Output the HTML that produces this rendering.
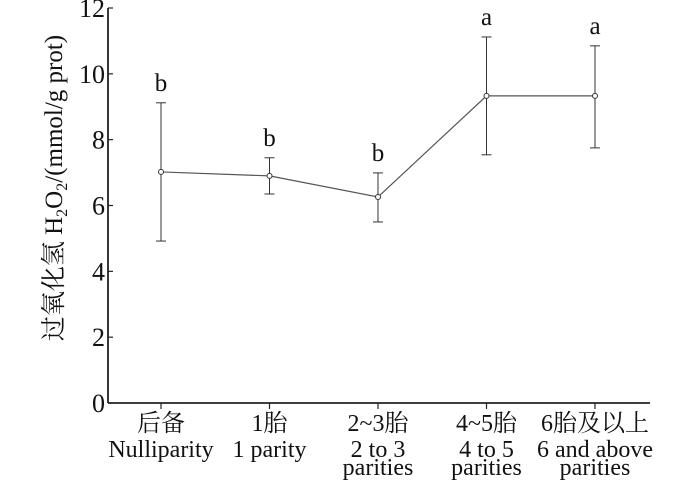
<!DOCTYPE html>
<html><head><meta charset="utf-8"><style>
body{margin:0;background:#fff;}
svg text{font-family:"Liberation Serif","Noto Serif CJK SC",serif;fill:#111;}
</style></head><body>
<svg width="700" height="484" xmlns="http://www.w3.org/2000/svg">
<g id="chart"></g>
</svg>
<script>
const categoriesCn=["后备","1胎","2~3胎","4~5胎","6胎及以上"];
const categoriesEn=[["Nulliparity"],["1 parity"],["2 to 3","parities"],["4 to 5","parities"],["6 and above","parities"]];
const means=[7.02,6.9,6.26,9.33,9.33];
const errUpper=[9.12,7.45,6.99,11.12,10.85];
const errLower=[4.92,6.35,5.5,7.54,7.75];
const sigLetters=["b","b","b","a","a"];
const yTicks=[0,2,4,6,8,10,12];
const NS="http://www.w3.org/2000/svg";
const g=document.getElementById('chart');
const X0=108,Y0=403,YU=(403-8)/12;
const xPos=i=>161+i*108.5;
const y=v=>Y0-v*YU;
function mk(t,a){const e=document.createElementNS(NS,t);for(const k in a)e.setAttribute(k,a[k]);g.appendChild(e);return e;}
let e;
e=mk('line',{x1:X0,y1:8,x2:X0,y2:Y0,stroke:'#222','stroke-width':1.8});


e=mk('line',{x1:X0,y1:Y0,x2:650,y2:Y0,stroke:'#222','stroke-width':1.8});


yTicks.forEach(v=>{
 e=mk('line',{x1:X0,y1:y(v),x2:X0+5,y2:y(v),stroke:'#222','stroke-width':1.2});
 
 
 e=mk('text',{x:X0-3,y:y(v)+9,'text-anchor':'end','font-size':26});
 e.textContent=v;
 
 
});
categoriesCn.forEach((c,i)=>{
 const x=xPos(i);
 e=mk('line',{x1:x,y1:Y0,x2:x,y2:Y0+6,stroke:'#222','stroke-width':1.2});
 
 
 e=mk('text',{x:x,y:431,'text-anchor':'middle','font-size':24});
 e.textContent=c;
 
 
 categoriesEn[i].forEach((l,j)=>{
  e=mk('text',{x:x,y:457+j*18,'text-anchor':'middle','font-size':24});
  e.textContent=l;
  
  
 });
});
e=mk('polyline',{points:means.map((v,i)=>xPos(i)+','+y(v)).join(' '),fill:'none',stroke:'#555','stroke-width':1.2});


means.forEach((v,i)=>{
 const x=xPos(i);
 e=mk('line',{x1:x,y1:y(errUpper[i]),x2:x,y2:y(errLower[i]),stroke:'#333','stroke-width':1});
 
 
 [errUpper[i],errLower[i]].forEach(w=>{
  e=mk('line',{x1:x-5,y1:y(w),x2:x+5,y2:y(w),stroke:'#333','stroke-width':1});
  
  
 });
 e=mk('circle',{cx:x,cy:y(v),r:2.5,fill:'#fff',stroke:'#333','stroke-width':1});
 
 
 e=mk('text',{x:x,y:y(errUpper[i])-12,'text-anchor':'middle','font-size':25});
 e.textContent=sigLetters[i];
 
 
});
e=mk('text',{x:0,y:0,'font-size':25,'text-anchor':'middle',transform:'translate(62,188) rotate(-90)'});
e.innerHTML='过氧化氢  H<tspan font-size="16" dy="5">2</tspan><tspan dy="-5">O</tspan><tspan font-size="16" dy="5">2</tspan><tspan dy="-5">/(mmol/g prot)</tspan>';


</script>
</body></html>
